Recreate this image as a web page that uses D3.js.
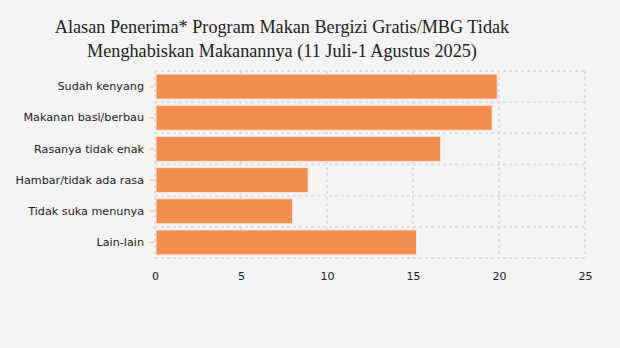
<!DOCTYPE html>
<html>
<head>
<meta charset="utf-8">
<script src="https://cdn.jsdelivr.net/npm/d3@7"></script>
<style>
  html, body { margin: 0; padding: 0; background: #f4f4f4; }
  svg { display: block; }
</style>
</head>
<body>
<svg id="chart" width="620" height="348"></svg>
<script>
// Reasons given for not finishing MBG meals (percent of recipients)
const categories = [
  "Sudah kenyang",
  "Makanan basi/berbau",
  "Rasanya tidak enak",
  "Hambar/tidak ada rasa",
  "Tidak suka menunya",
  "Lain-lain"
];
const values = [19.9, 19.6, 16.6, 8.9, 8.0, 15.2];
const xTicks = [0, 5, 10, 15, 20, 25];
const titleLines = [
  "Alasan Penerima* Program Makan Bergizi Gratis/MBG Tidak",
  "Menghabiskan Makanannya (11 Juli-1 Agustus 2025)"
];

const W = 620, H = 348;
const margin = { top: 71, right: 35, bottom: 90, left: 155 };
const innerW = W - margin.left - margin.right;
const innerH = H - margin.top - margin.bottom;

const svg = d3.select("#chart");
svg.append("rect").attr("width", W).attr("height", H).attr("fill", "#f4f4f4");

// Title
svg.append("text")
  .attr("x", 282)
  .attr("y", 33)
  .attr("text-anchor", "middle")
  .attr("font-family", "'Liberation Serif', 'Times New Roman', serif")
  .attr("font-size", 18.2)
  .attr("fill", "#222")
  .selectAll("tspan")
  .data(titleLines)
  .join("tspan")
  .attr("x", 282)
  .attr("dy", (d, i) => i === 0 ? 0 : 24)
  .text(d => d);

const g = svg.append("g").attr("transform", `translate(${margin.left},${margin.top})`);

const x = d3.scaleLinear().domain([0, 25]).range([0, innerW]);
const y = d3.scaleBand().domain(categories).range([0, innerH]).paddingInner(0.2).paddingOuter(0.1);

const gridStyle = sel => sel
  .attr("stroke", "#dedede")
  .attr("stroke-width", 2)
  .attr("stroke-dasharray", "3,3")
  .attr("fill", "none");

// Vertical grid lines at x ticks
g.append("g").selectAll("line")
  .data(xTicks)
  .join("line")
  .attr("x1", d => x(d)).attr("x2", d => x(d))
  .attr("y1", 0).attr("y2", innerH)
  .call(gridStyle);

// Horizontal grid lines at category boundaries
const step = y.step();
const bounds = d3.range(categories.length + 1).map(i => i * step);
g.append("g").selectAll("line")
  .data(bounds)
  .join("line")
  .attr("x1", 0).attr("x2", innerW)
  .attr("y1", d => d).attr("y2", d => d)
  .call(gridStyle);

// Bars
g.append("g").selectAll("rect")
  .data(categories.map((c, i) => ({ c, v: values[i] })))
  .join("rect")
  .attr("x", x(0) + 1)
  .attr("y", d => y(d.c))
  .attr("width", d => x(d.v) - x(0) - 1)
  .attr("height", y.bandwidth())
  .attr("fill", "#f28c4f")
  .attr("stroke", "#fbe3d4")
  .attr("stroke-width", 1);

// Y axis labels
const yAxis = d3.axisLeft(y).tickSize(5).tickPadding(5);
const ya = g.append("g").attr("transform", "translate(-1,0)").call(yAxis);
ya.select(".domain").remove();
ya.selectAll(".tick line").attr("stroke", "#dcdcdc").attr("stroke-width", 2);
ya.selectAll(".tick text")
  .attr("font-family", "Verdana, 'DejaVu Sans', sans-serif")
  .attr("font-size", 11.2)
  .attr("fill", "#222");

// X axis labels
const xAxis = d3.axisBottom(x).tickValues(xTicks).tickSize(0).tickPadding(14);
const xa = g.append("g").attr("transform", `translate(0,${innerH})`).call(xAxis);
xa.select(".domain").remove();
xa.selectAll(".tick text")
  .attr("font-family", "Verdana, 'DejaVu Sans', sans-serif")
  .attr("font-size", 11)
  .attr("fill", "#222");
</script>
</body>
</html>
